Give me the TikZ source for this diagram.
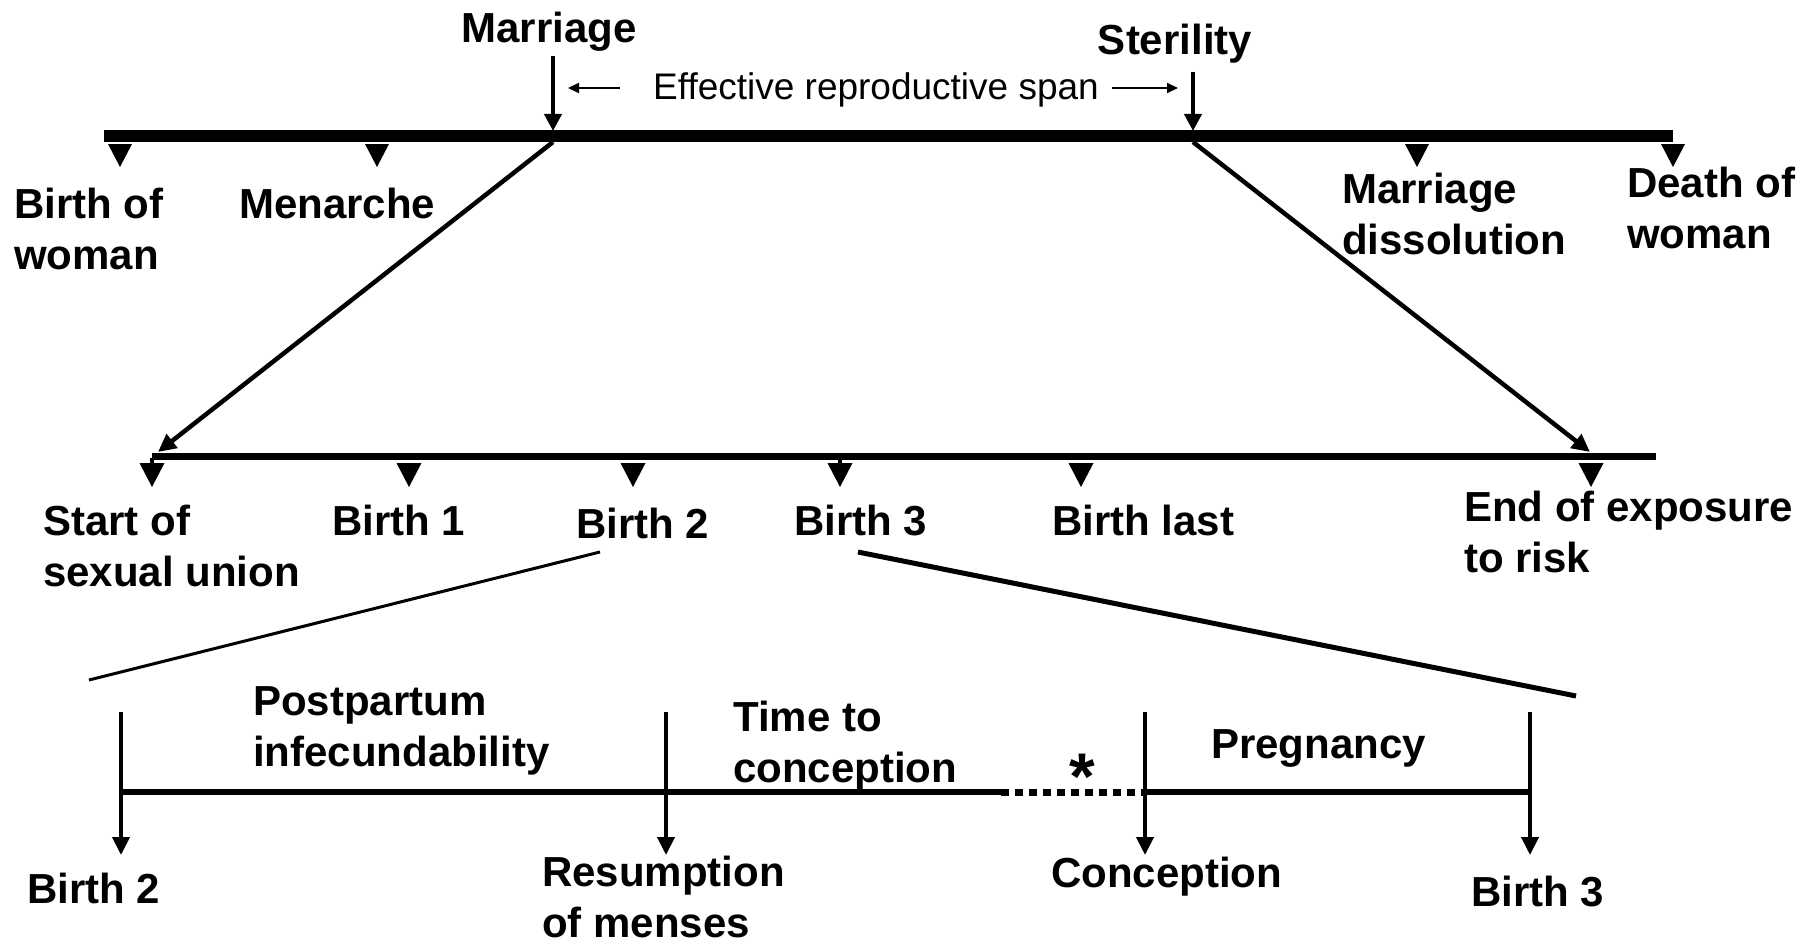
\documentclass[tikz,border=0pt]{standalone}
\usepackage{fontspec}
\setmainfont{Liberation Sans}
\usetikzlibrary{arrows.meta}
\newcommand\dtri[4]{\fill (#1-#3/2,#2) -- (#1+#3/2,#2) -- (#1,#2+#4) -- cycle;}
\begin{document}
\begin{tikzpicture}[x=1pt,y=-1pt,
  lbl/.style={font=\fontsize{42}{51}\selectfont\bfseries, inner sep=0pt, anchor=base west, align=left},
  thin lbl/.style={font=\fontsize{37}{44}\selectfont, inner sep=0pt, anchor=base west},
  vhead/.style={-{Triangle[width=17pt,length=17pt]}},
  shead/.style={-{Triangle[width=10pt,length=11pt]}},
  dhead/.style={-{Triangle[width=17pt,length=18pt]}},
  mainline/.style={line width=12pt},
  midline/.style={line width=7pt},
  lowline/.style={line width=6pt},
  vline/.style={line width=4pt},
  diag/.style={line width=4.5pt}]
\useasboundingbox (0,0) rectangle (1819,947);

% ---------- top timeline ----------
\coordinate (tL) at (104,136);
\coordinate (tR) at (1673,136);
\draw[mainline] (tL) -- (tR);
\coordinate (mTop) at (553,56);
\coordinate (mPt) at (553,131);
\coordinate (sTop) at (1193,72);
\coordinate (sPt) at (1193,131);
\draw[vline,vhead] (mTop) -- (mPt);
\draw[vline,vhead] (sTop) -- (sPt);
\node[lbl,anchor=base] (marriage) at (549,43) {Marriage};
\node[lbl,anchor=base] (sterility) at (1175,55) {Sterility};
\node[thin lbl] (eff) at (653,100) {Effective reproductive span};
\coordinate (eL1) at (620,88); \coordinate (eL2) at (568,88);
\coordinate (eR1) at (1112,88); \coordinate (eR2) at (1178,88);
\draw[line width=2pt,shead] (eL1) -- (eL2);
\draw[line width=2pt,shead] (eR1) -- (eR2);

\dtri{120}{144}{24}{23}
\dtri{377}{144}{24}{23}
\dtri{1417}{144}{24}{23}
\dtri{1673}{144}{24}{23}
\node[lbl] (bow) at (14,269) {Birth of\\woman};
\node[lbl] (men) at (239,218) {Menarche};
\node[lbl] (mdis) at (1342,254) {Marriage\\dissolution};
\node[lbl] (dow) at (1627,248) {Death of\\woman};

% ---------- middle timeline ----------
\coordinate (mL) at (152,456);
\coordinate (mR) at (1656,456);
\draw[midline] (mL) -- (mR);
\coordinate (dA1) at (553,142); \coordinate (dA2) at (158,452);
\coordinate (dB1) at (1193,142); \coordinate (dB2) at (1590,452);
\draw[diag,dhead] (dA1) -- (dA2);
\draw[diag,dhead] (dB1) -- (dB2);
\draw[line width=4pt] (152,458) -- (152,470);
\draw[line width=4pt] (840,458) -- (840,470);
\dtri{152}{463}{25}{24}
\dtri{409}{463}{25}{24}
\dtri{633}{463}{25}{24}
\dtri{840}{463}{25}{24}
\dtri{1081}{463}{25}{24}
\dtri{1591}{463}{25}{24}
\node[lbl] (start) at (43,586) {Start of\\sexual union};
\node[lbl] (b1) at (332,535) {Birth 1};
\node[lbl] (b2) at (576,538) {Birth 2};
\node[lbl] (b3) at (794,535) {Birth 3};
\node[lbl] (blast) at (1052,535) {Birth last};
\node[lbl] (endx) at (1464,572) {End of exposure\\to risk};

% ---------- zoom lines ----------
\coordinate (zA1) at (600,552); \coordinate (zA2) at (89,680);
\coordinate (zB1) at (858,552); \coordinate (zB2) at (1576,696);
\draw[line width=3pt] (zA1) -- (zA2);
\draw[line width=5pt] (zB1) -- (zB2);

% ---------- bottom timeline ----------
\coordinate (bL) at (121,792);
\coordinate (bD1) at (1001,792);
\coordinate (bD2) at (1143,792);
\coordinate (bR) at (1530,792);
\draw[lowline] (bL) -- (bD1);
\draw[line width=7pt,dash pattern=on 8pt off 6pt] (bD1) -- (bD2);
\draw[lowline] (bD2) -- (bR);
\foreach \x/\n in {121/p1,666/p2,1145/p3,1530/p4}{
  \coordinate (\n t) at (\x,712);
  \coordinate (\n b) at (\x,855);
  \draw[vline,dhead] (\n t) -- (\n b);
}
\node[lbl] (pp) at (253,766) {Postpartum\\infecundability};
\node[lbl] (ttc) at (733,782) {Time to\\conception};
\node[font=\fontsize{66}{70}\selectfont\bfseries, inner sep=0pt, anchor=base] (star) at (1082,799) {*};
\node[lbl] (preg) at (1211,758) {Pregnancy};
\node[lbl] (bb2) at (27,903) {Birth 2};
\node[lbl] (res) at (542,937) {Resumption\\of menses};
\node[lbl] (conc) at (1051,887) {Conception};
\node[lbl] (bb3) at (1471,906) {Birth 3};
\end{tikzpicture}
\end{document}
